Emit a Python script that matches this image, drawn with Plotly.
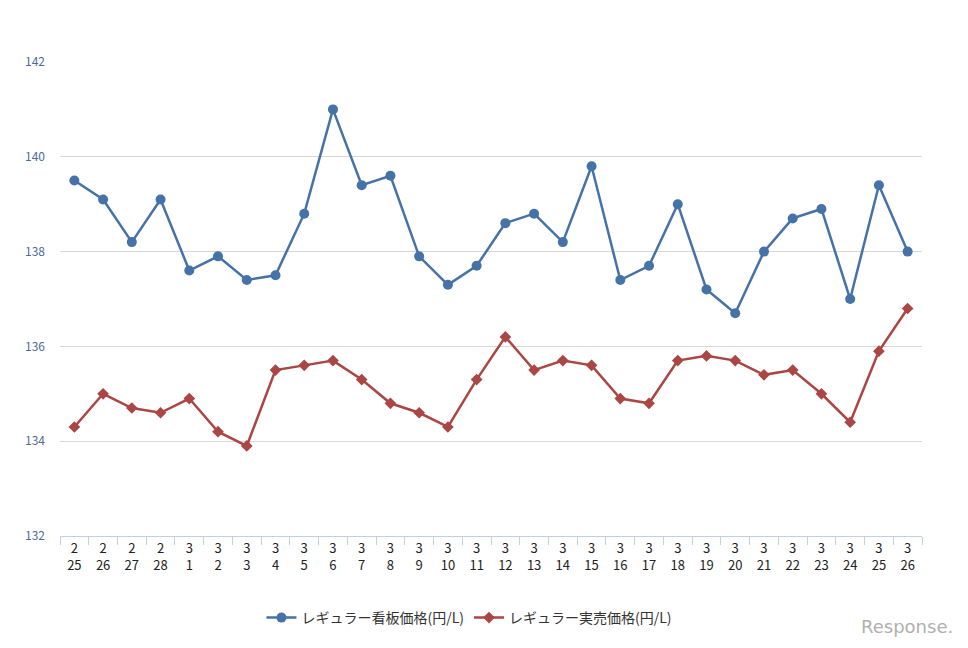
import plotly.graph_objects as go

months = [2,2,2,2] + [3]*26
days = [25,26,27,28] + list(range(1,27))
cats = [f"{m}<br>{d}" for m, d in zip(months, days)]

kanban = [139.5,139.1,138.2,139.1,137.6,137.9,137.4,137.5,138.8,141.0,
          139.4,139.6,137.9,137.3,137.7,138.6,138.8,138.2,139.8,137.4,
          137.7,139.0,137.2,136.7,138.0,138.7,138.9,137.0,139.4,138.0]
jitsubai = [134.3,135.0,134.7,134.6,134.9,134.2,133.9,135.5,135.6,135.7,
            135.3,134.8,134.6,134.3,135.3,136.2,135.5,135.7,135.6,134.9,
            134.8,135.7,135.8,135.7,135.4,135.5,135.0,134.4,135.9,136.8]

fig = go.Figure()
fig.add_trace(go.Scatter(x=cats, y=kanban, mode="lines+markers",
    name="レギュラー看板価格(円/L)",
    line=dict(color="#4572A7", width=2.5),
    marker=dict(symbol="circle", size=10, color="#4572A7")))
fig.add_trace(go.Scatter(x=cats, y=jitsubai, mode="lines+markers",
    name="レギュラー実売価格(円/L)",
    line=dict(color="#AA4643", width=2.5),
    marker=dict(symbol="diamond", size=9, color="#AA4643")))

fig.update_layout(
    width=968, height=648,
    margin=dict(l=52, r=54, t=54, b=120, autoexpand=False),
    paper_bgcolor="white", plot_bgcolor="white",
    font=dict(family="Noto Sans CJK JP, sans-serif", size=13, color="#333"),
    showlegend=True,
    legend=dict(orientation="h", x=0.475, xanchor="center", y=-0.173, yanchor="middle",
                font=dict(size=14, color="#333")),
    xaxis=dict(type="category", range=[-0.5, 29.5], showgrid=False, automargin=False,
               showline=True, linecolor="#c0d0e0", ticks="outside",
               tickson="boundaries", tickcolor="#c0d0e0", ticklen=8,
               tickfont=dict(size=13, color="#222")),
    yaxis=dict(range=[132, 142], dtick=2, showgrid=True, gridcolor="#d8d8d8",
               zeroline=False, showline=False, ticks="", automargin=False,
               ticklabelstandoff=14,
               tickfont=dict(size=12, color="#4d6a94")),
)
fig.add_annotation(text="Response.", xref="paper", yref="paper", x=1.038, y=-0.19,
                   xanchor="right", yanchor="middle", showarrow=False,
                   font=dict(size=18, color="#b0b0b0", family="DejaVu Sans"))
fig.write_html("out.html")
